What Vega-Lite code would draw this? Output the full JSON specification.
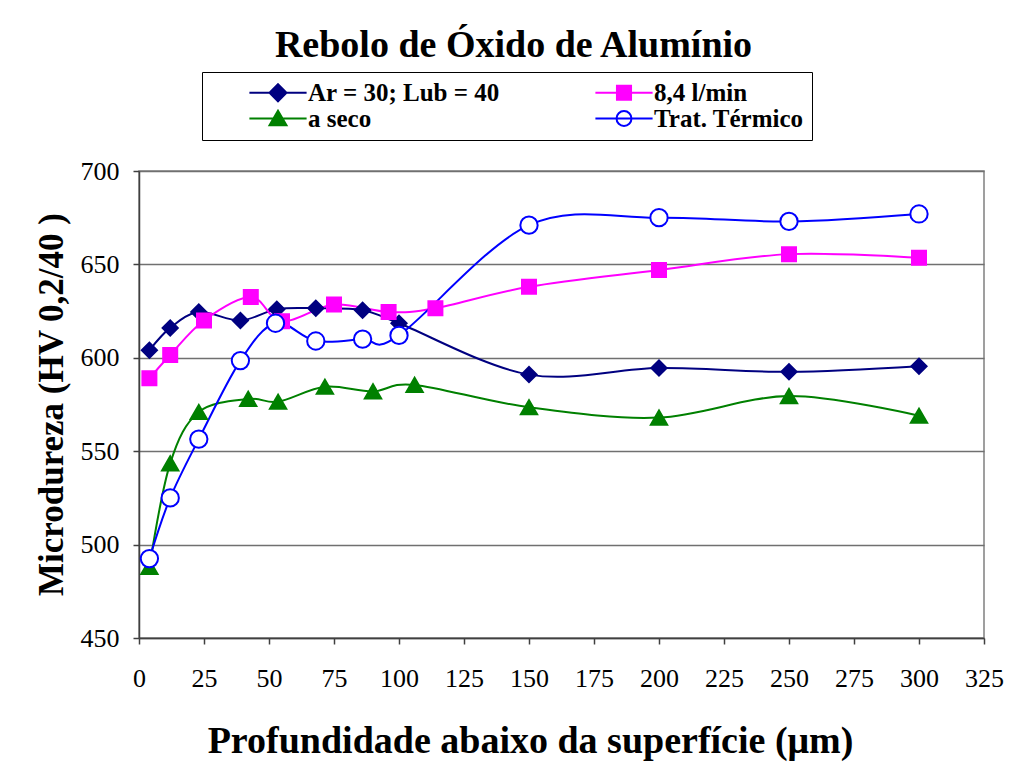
{
  "$schema": "https://vega.github.io/schema/vega-lite/v6.json",
  "width": 845,
  "height": 467,
  "autosize": "none",
  "padding": {"left": 139, "top": 171, "right": 29, "bottom": 136},
  "background": "white",
  "title": {
    "text": "Rebolo de Óxido de Alumínio",
    "font": "Liberation Serif",
    "fontSize": 38,
    "fontWeight": "bold",
    "color": "black",
    "anchor": "middle",
    "dx": -48,
    "dy": 23,
    "baseline": "alphabetic",
    "offset": 0
  },
  "config": {
    "view": {"stroke": "#808080", "strokeWidth": 1.5},
    "axis": {
      "labelFont": "Liberation Serif",
      "labelFontSize": 26,
      "labelColor": "black",
      "titleFont": "Liberation Serif",
      "titleFontSize": 38,
      "titleFontWeight": "bold",
      "titleColor": "black",
      "domainColor": "#404040",
      "domainWidth": 1.5,
      "tickColor": "#404040",
      "tickWidth": 1.5,
      "tickSize": 6,
      "gridColor": "#707070",
      "gridWidth": 1.5,
      "gridOpacity": 1
    },
    "legend": {
      "labelFont": "Liberation Serif",
      "labelFontSize": 25,
      "labelFontWeight": "bold",
      "labelColor": "black",
      "labelLimit": 400,
      "symbolSize": 484,
      "symbolStrokeWidth": 2,
      "symbolOpacity": 1
    }
  },
  "data": {
    "values": [
      {"s": "Ar = 30; Lub = 40", "x": 4, "y": 604},
      {"s": "Ar = 30; Lub = 40", "x": 12, "y": 616},
      {"s": "Ar = 30; Lub = 40", "x": 23, "y": 624.5},
      {"s": "Ar = 30; Lub = 40", "x": 39, "y": 620},
      {"s": "Ar = 30; Lub = 40", "x": 53, "y": 626},
      {"s": "Ar = 30; Lub = 40", "x": 68, "y": 626.5},
      {"s": "Ar = 30; Lub = 40", "x": 86, "y": 625.5},
      {"s": "Ar = 30; Lub = 40", "x": 100, "y": 618.5},
      {"s": "Ar = 30; Lub = 40", "x": 150, "y": 591},
      {"s": "Ar = 30; Lub = 40", "x": 200, "y": 594.5},
      {"s": "Ar = 30; Lub = 40", "x": 250, "y": 592.5},
      {"s": "Ar = 30; Lub = 40", "x": 300, "y": 595.5},
      {"s": "8,4 l/min", "x": 4, "y": 589},
      {"s": "8,4 l/min", "x": 12, "y": 601.5},
      {"s": "8,4 l/min", "x": 25, "y": 620},
      {"s": "8,4 l/min", "x": 43, "y": 632.5},
      {"s": "8,4 l/min", "x": 55, "y": 619.5},
      {"s": "8,4 l/min", "x": 75, "y": 628.5},
      {"s": "8,4 l/min", "x": 96, "y": 624.5},
      {"s": "8,4 l/min", "x": 114, "y": 626.5},
      {"s": "8,4 l/min", "x": 150, "y": 638},
      {"s": "8,4 l/min", "x": 200, "y": 647},
      {"s": "8,4 l/min", "x": 250, "y": 655.5},
      {"s": "8,4 l/min", "x": 300, "y": 653.5},
      {"s": "a seco", "x": 4, "y": 488},
      {"s": "a seco", "x": 12, "y": 543.5},
      {"s": "a seco", "x": 23, "y": 571},
      {"s": "a seco", "x": 42, "y": 578},
      {"s": "a seco", "x": 53.5, "y": 576.5},
      {"s": "a seco", "x": 71.5, "y": 584.5},
      {"s": "a seco", "x": 90, "y": 582},
      {"s": "a seco", "x": 106, "y": 585.5},
      {"s": "a seco", "x": 150, "y": 573.5},
      {"s": "a seco", "x": 200, "y": 568},
      {"s": "a seco", "x": 250, "y": 579.5},
      {"s": "a seco", "x": 300, "y": 569},
      {"s": "Trat. Térmico", "x": 4, "y": 492.5},
      {"s": "Trat. Térmico", "x": 12, "y": 525},
      {"s": "Trat. Térmico", "x": 23, "y": 556.5},
      {"s": "Trat. Térmico", "x": 39, "y": 598.5},
      {"s": "Trat. Térmico", "x": 52.5, "y": 618.5},
      {"s": "Trat. Térmico", "x": 68, "y": 609},
      {"s": "Trat. Térmico", "x": 86, "y": 610},
      {"s": "Trat. Térmico", "x": 100, "y": 612},
      {"s": "Trat. Térmico", "x": 150, "y": 671},
      {"s": "Trat. Térmico", "x": 200, "y": 675},
      {"s": "Trat. Térmico", "x": 250, "y": 673},
      {"s": "Trat. Térmico", "x": 300, "y": 677}
    ]
  },
  "encoding": {
    "x": {
      "field": "x",
      "type": "quantitative",
      "scale": {"domain": [0, 325], "nice": false, "zero": false},
      "axis": {
        "values": [0, 25, 50, 75, 100, 125, 150, 175, 200, 225, 250, 275, 300, 325],
        "grid": false,
        "labelPadding": 21,
        "labelFlush": false,
        "title": "Profundidade abaixo da superfície (μm)",
        "titleX": 391,
        "titleY": 114,
        "titleBaseline": "alphabetic",
        "titleAnchor": "middle"
      }
    },
    "y": {
      "field": "y",
      "type": "quantitative",
      "scale": {"domain": [450, 700], "nice": false, "zero": false},
      "axis": {
        "values": [450, 500, 550, 600, 650, 700],
        "grid": true,
        "labelPadding": 14,
        "labelFlush": false,
        "title": "Microdureza (HV 0,2/40 )",
        "titleFontSize": 35,
        "titleX": -77,
        "titleY": 233,
        "titleBaseline": "alphabetic",
        "titleAngle": -90,
        "titleAlign": "center"
      }
    }
  },
  "resolve": {"scale": {"shape": "independent", "fill": "independent", "stroke": "independent", "size": "independent"}},
  "layer": [
    {
      "mark": {"type": "line", "interpolate": "cardinal", "strokeWidth": 2},
      "encoding": {
        "stroke": {
          "field": "s",
          "type": "nominal",
          "scale": {
            "domain": ["8,4 l/min", "Ar = 30; Lub = 40", "a seco", "Trat. Térmico"],
            "range": ["#FF00FF", "#000080", "#008000", "#0000FF"]
          },
          "legend": null
        }
      }
    },
    {
      "mark": {"type": "point", "strokeWidth": 2, "opacity": 1},
      "encoding": {
        "stroke": {
          "field": "s",
          "type": "nominal",
          "scale": {
            "domain": ["8,4 l/min", "Ar = 30; Lub = 40", "a seco", "Trat. Térmico"],
            "range": ["#FF00FF", "#000080", "#008000", "#0000FF"]
          },
          "legend": null
        },
        "fill": {
          "field": "s",
          "type": "nominal",
          "scale": {
            "domain": ["8,4 l/min", "Ar = 30; Lub = 40", "a seco", "Trat. Térmico"],
            "range": ["#FF00FF", "#000080", "#008000", "#FFFFFF"]
          },
          "legend": null
        },
        "size": {
          "field": "s",
          "type": "nominal",
          "scale": {
            "domain": ["8,4 l/min", "Ar = 30; Lub = 40", "a seco", "Trat. Térmico"],
            "range": [196, 300, 290, 300]
          },
          "legend": null
        },
        "shape": {
          "field": "s",
          "type": "nominal",
          "scale": {
            "domain": ["Trat. Térmico", "a seco", "8,4 l/min", "Ar = 30; Lub = 40"],
            "range": ["circle", "triangle-up", "square", "diamond"]
          },
          "legend": null
        }
      }
    },
    {
      "transform": [{"filter": "false"}],
      "mark": {"type": "point", "strokeWidth": 2},
      "encoding": {
        "stroke": {
          "field": "s",
          "type": "nominal",
          "scale": {
            "domain": ["Ar = 30; Lub = 40", "8,4 l/min", "a seco", "Trat. Térmico"],
            "range": ["#000080", "#FF00FF", "#008000", "#0000FF"]
          }
        },
        "fill": {
          "field": "s",
          "type": "nominal",
          "scale": {
            "domain": ["Ar = 30; Lub = 40", "8,4 l/min", "a seco", "Trat. Térmico"],
            "range": ["#000080", "#FF00FF", "#008000", "#FFFFFF"]
          }
        },
        "shape": {
          "field": "s",
          "type": "nominal",
          "scale": {
            "domain": ["Ar = 30; Lub = 40", "8,4 l/min", "a seco", "Trat. Térmico"],
            "range": [
              "M-2.6,0H2.6M0,-0.77L0.77,0L0,0.77L-0.77,0Z",
              "M-2.6,0H2.6M-0.64,-0.64H0.64V0.64H-0.64Z",
              "M-2.6,0H2.6M0,-0.7L0.77,0.62H-0.77Z",
              "M-2.6,0H2.6M0.68,0A0.68,0.68 0 1 1 -0.68,0A0.68,0.68 0 1 1 0.68,0Z"
            ]
          },
          "legend": {
            "title": null,
            "orient": "none",
            "legendX": 63,
            "legendY": -99,
            "direction": "horizontal",
            "columns": 2,
            "columnPadding": 56,
            "rowPadding": -6,
            "padding": 8,
            "strokeColor": "black",
            "fillColor": "white",
            "symbolOffset": 55.5,
            "labelOffset": 17.5
          }
        }
      }
    }
  ]
}
